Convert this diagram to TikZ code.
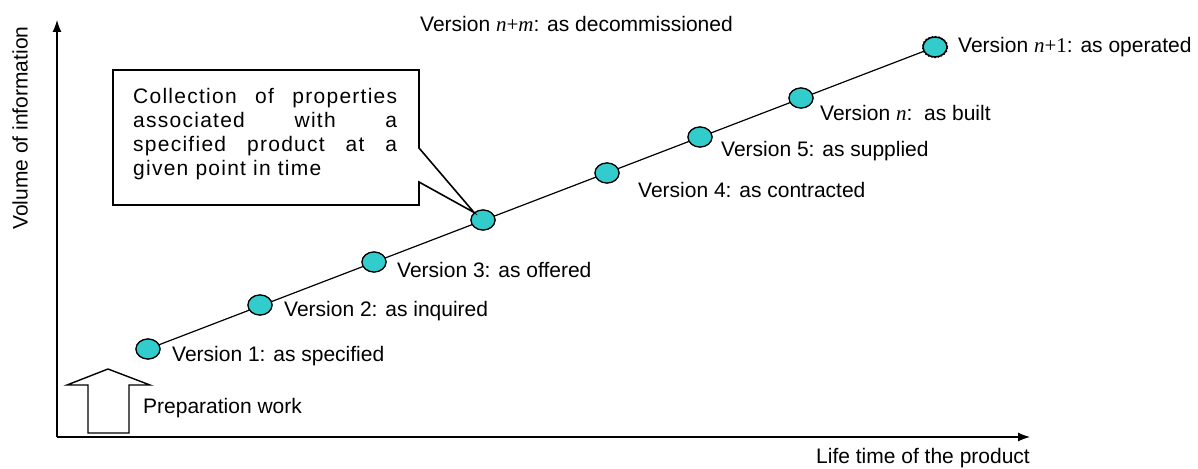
\documentclass[tikz,border=0pt]{standalone}
\usepackage{fontspec}
\setmainfont{Liberation Sans}
\newfontfamily\serf{Liberation Serif}
\newfontfamily\callfont[LetterSpace=6]{Liberation Sans}
\newcommand{\vn}[1]{{\serf\itshape #1}}
\definecolor{vfill}{RGB}{51,204,204}
\begin{document}
\begin{tikzpicture}[x=1pt,y=-1pt,
  ver/.style={ellipse,draw,fill=vfill,minimum width=24pt,minimum height=20pt,inner sep=0pt,line width=1.2pt},
  lab/.style={anchor=west,font=\fontsize{21}{24}\selectfont,inner sep=0pt},
  ax/.style={line width=1.2pt,-{Latex[length=12pt,width=9pt]}}]
\useasboundingbox (0,0) rectangle (1198,468);
\usetikzlibrary{arrows.meta,shapes.geometric}
\coordinate (o) at (57,437);
\coordinate (yt) at (57,20);
\coordinate (xr) at (1030,437);
\draw[ax] (o) -- (yt);
\draw[ax] (o) -- (xr);
\node[lab,rotate=90,anchor=center] (ylab) at (20,128) {Volume of information};
\node[lab,anchor=east] (xlab) at (1030,458) {Life time of the product};
\node[ver] (v1) at (148,349) {};
\node[ver] (v2) at (260,305) {};
\node[ver] (v3) at (374,262) {};
\node[ver] (vc) at (483,220) {};
\node[ver] (v4) at (607,173) {};
\node[ver] (v5) at (700,137) {};
\node[ver] (vn) at (801,98) {};
\node[ver,dotted,line width=2.5pt] (vn1) at (935,47) {};
\draw[line width=1.2pt] (v1.center) -- (vn1.center);
\foreach \n in {v1,v2,v3,vc,v4,v5,vn}{\node[ver] at (\n) {};}
\node[ver,line width=1.5pt] at (vn1) {};
\node[lab] (l1) at (172,356) {Version 1: as specified};
\node[lab] (l2) at (284,311) {Version 2: as inquired};
\node[lab] (l3) at (397,270) {Version 3: as offered};
\node[lab] (l4) at (638,190) {Version 4: as contracted};
\node[lab] (l5) at (721,151) {Version 5: as supplied};
\node[lab] (ln) at (820,113) {Version \vn{n}:\ \ as built};
\node[lab] (ln1) at (958,47) {Version \vn{n}{\serf+1}: as operated};
\node[lab] (lnm) at (420,24) {Version \vn{n}{\serf+}\vn{m}: as decommissioned};
% callout
\draw[line width=1.6pt,fill=white] (113,70) -- (419,70) -- (419,148) -- (vc.north west) -- (419,182) -- (419,205) -- (113,205) -- cycle;
\node[anchor=north west,inner sep=0pt,align=left,font=\callfont\fontsize{21}{24}\selectfont] (call) at (133,88)
 {\makebox[264pt][s]{Collection of properties}\\
  \makebox[264pt][s]{associated with a}\\
  \makebox[264pt][s]{specified product at a}\\
  given point in time};
% preparation arrow
\draw[line width=1.4pt,fill=white] (88,433) -- (88,385) -- (67,385) -- (108,369) -- (150,385) -- (129,385) -- (129,433) -- cycle;
\node[lab] (prep) at (143,408) {Preparation work};
\end{tikzpicture}
\end{document}
